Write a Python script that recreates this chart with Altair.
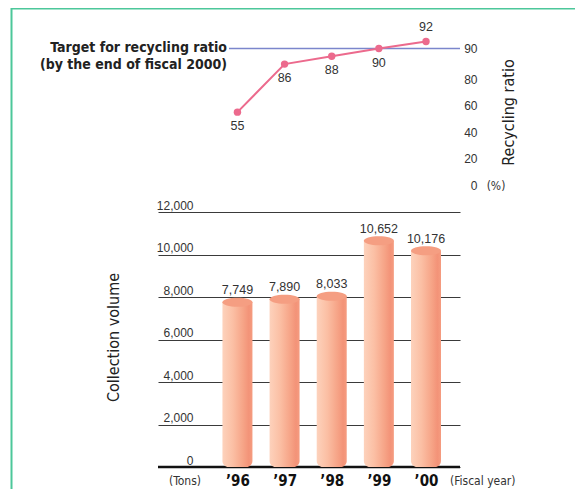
import altair as alt
import pandas as pd

# ---- data ----
years = ["’96", "’97", "’98", "’99", "’00"]
volume = [7749, 7890, 8033, 10652, 10176]
ratio = [55, 86, 88, 90, 92]
target_ratio = 90
volume_ticks = [0, 2000, 4000, 6000, 8000, 10000, 12000]
ratio_ticks = [0, 20, 40, 60, 80, 90]
target_text = "Target for recycling ratio\n(by the end of fiscal 2000)"

df = pd.DataFrame({"i": list(range(len(years))), "year": years,
                   "volume": volume, "ratio": ratio})
target_df = pd.DataFrame({"ratio": [target_ratio], "label": [target_text]})
base_df = pd.DataFrame({"volume": [0]})
one = pd.DataFrame({"a": [0]})

COND = "Liberation Sans Narrow, DejaVu Sans Condensed, Roboto Condensed, Liberation Sans, sans-serif"
REG = "Liberation Sans, Arial, sans-serif"

xscale = alt.Scale(domain=[-1.579, 4.615], nice=False, zero=False)
label_expr = "[" + ",".join(f"'{y}'" for y in years) + "][datum.value]"

x_axis = alt.Axis(values=list(range(len(years))), labelExpr=label_expr, orient="bottom",
                  domain=False, ticks=False, grid=False, labelFlush=False,
                  labelFont=COND, labelFontWeight="bold", labelFontSize=15, labelColor="#111",
                  labelPadding=12, labelBaseline="middle", title=None)
X = alt.X("i:Q", scale=xscale, axis=x_axis)


def vs():
    return alt.Scale(domain=[0, 12000], range=[447, 192], nice=False, zero=False)


def rs():
    return alt.Scale(domain=[0, 80, 85, 90, 100], range=[165, 59, 48, 28.5, -6.5],
                     nice=False, zero=False)


# ---- bottom: collection volume ----
v_axis = alt.Axis(orient="left", values=volume_ticks, format=",.0f", grid=True,
                  gridColor="#3a3a3a", gridWidth=1.2, domain=False, ticks=False,
                  labelAlign="right", labelBaseline="alphabetic", labelPadding=-35,
                  labelOffset=-3, labelFont=REG, labelFontSize=12, labelColor="#333",
                  title="Collection volume", titleFont=COND, titleFontSize=16,
                  titleFontWeight="normal", titleColor="#222", titleAngle=270,
                  titleX=-45, titleY=317, titleAlign="center", titleBaseline="middle")

baseline = alt.Chart(base_df).mark_rule(color="#111", strokeWidth=2.5).encode(
    y=alt.Y("volume:Q", scale=vs(), axis=v_axis),
    x=alt.value(0), x2=alt.value(302))

grad = alt.Gradient(gradient="linear", x1=0, x2=1, y1=0, y2=0, stops=[
    alt.GradientStop(color="#fdd2bc", offset=0),
    alt.GradientStop(color="#fbbfa4", offset=0.35),
    alt.GradientStop(color="#f6a386", offset=0.7),
    alt.GradientStop(color="#f39378", offset=0.88),
    alt.GradientStop(color="#f59c80", offset=1)])

bars = alt.Chart(df).mark_bar(size=30, color=grad, cornerRadiusBottomLeft=6,
                              cornerRadiusBottomRight=6).encode(
    x=X, y=alt.Y("volume:Q", scale=vs(), axis=None), y2=alt.datum(0))

ellipse = "M -1 0 A 1 0.3 0 1 1 1 0 A 1 0.3 0 1 1 -1 0 Z"
tops = alt.Chart(df).mark_point(shape=ellipse, size=900, filled=True, fill="#f59e82",
                                opacity=1, strokeWidth=0).encode(
    x=X, y=alt.Y("volume:Q", scale=vs(), axis=None))

vlabels = alt.Chart(df).mark_text(font=REG, fontSize=12.5, color="#333",
                                  baseline="alphabetic", dy=-8).encode(
    x=X, y=alt.Y("volume:Q", scale=vs(), axis=None),
    text=alt.Text("volume:Q", format=",.0f"))

tons = alt.Chart(one).mark_text(text="(Tons)", font=COND, fontSize=12, color="#333",
                                baseline="middle").encode(x=alt.value(27), y=alt.value(461))
fiscal = alt.Chart(one).mark_text(text="(Fiscal year)", font=COND, fontSize=12, color="#333",
                                  baseline="middle", align="left").encode(
    x=alt.value(292), y=alt.value(461))

# ---- top: recycling ratio ----
r_axis = alt.Axis(orient="right", values=ratio_ticks, grid=False, domain=False,
                  ticks=False, labelAlign="right", labelBaseline="middle",
                  labelPadding=17, labelFont=REG, labelFontSize=12, labelColor="#333",
                  title="Recycling ratio", titleFont=COND, titleFontSize=16,
                  titleFontWeight="normal", titleColor="#222", titleAngle=270,
                  titleX=48, titleY=92, titleAlign="center", titleBaseline="middle")

target_rule = alt.Chart(target_df).mark_rule(color="#7b86cc", strokeWidth=1.3).encode(
    y=alt.Y("ratio:Q", scale=rs(), axis=r_axis), x=alt.value(71), x2=alt.value(302))

target_lbl = alt.Chart(target_df).mark_text(font=COND, fontSize=14, fontWeight="bold",
                                            color="#222", align="right", baseline="alphabetic",
                                            lineBreak="\n", lineHeight=17).encode(
    text="label:N", x=alt.value(69), y=alt.value(32))

line = alt.Chart(df).mark_line(color="#ec6a8d", strokeWidth=2).encode(
    x=X, y=alt.Y("ratio:Q", scale=rs(), axis=None))
pts = alt.Chart(df).mark_point(filled=True, size=55, color="#ec6a8d", opacity=1).encode(
    x=X, y=alt.Y("ratio:Q", scale=rs(), axis=None))
rl_below = alt.Chart(df).transform_filter("datum.i < 4").mark_text(
    font=REG, fontSize=12.5, color="#333", baseline="middle", dy=14).encode(
    x=X, y=alt.Y("ratio:Q", scale=rs(), axis=None), text="ratio:Q")
rl_above = alt.Chart(df).transform_filter("datum.i == 4").mark_text(
    font=REG, fontSize=12.5, color="#333", baseline="middle", dy=-15).encode(
    x=X, y=alt.Y("ratio:Q", scale=rs(), axis=None), text="ratio:Q")

pct = alt.Chart(one).mark_text(text="(%)", font=COND, fontSize=12, color="#333",
                               baseline="middle").encode(x=alt.value(338), y=alt.value(166))

border = alt.Chart(one).mark_rect(fillOpacity=0, stroke="#4cc79a", strokeWidth=2).encode(
    x=alt.value(-146.5), x2=alt.value(430), y=alt.value(-11.5), y2=alt.value(490))

chart = alt.layer(
    border, baseline, bars, tops, vlabels, tons, fiscal,
    target_rule, target_lbl, line, pts, rl_below, rl_above, pct
).resolve_scale(y="independent").properties(
    width=302, height=448, autosize="none",
    padding={"left": 150, "top": 12, "right": 115, "bottom": 21},
    background="white",
).configure_view(stroke=None)

chart.save("out.html", embed_options={"renderer": "svg", "actions": False})
